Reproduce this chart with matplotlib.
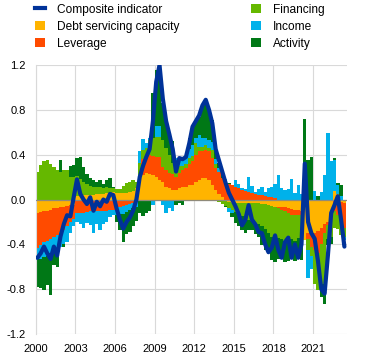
import numpy as np
import matplotlib
matplotlib.use("Agg")
import matplotlib.pyplot as plt
from matplotlib.lines import Line2D
from matplotlib.patches import Patch

plt.rcParams['font.family'] = ['Liberation Sans', 'DejaVu Sans']

# Quarterly data, 2000Q1 .. 2023Q2
start_year = 2000

debt_servicing = [
    -0.12, -0.11, -0.10, -0.10,
    -0.09, -0.08, -0.08, -0.07,
    -0.07, -0.06, -0.05, -0.05,
    0.03, 0.04, 0.04, 0.04,
    0.04, 0.04, 0.05, 0.05,
    0.05, 0.06, 0.06, 0.07,
    0.06, 0.06, 0.06, 0.06,
    0.07, 0.08, 0.10, 0.15,
    0.22, 0.24, 0.23, 0.22,
    0.20, 0.17, 0.16, 0.11,
    0.10, 0.085, 0.085, 0.10,
    0.11, 0.11, 0.13, 0.13,
    0.16, 0.17, 0.19, 0.19,
    0.17, 0.13, 0.085, 0.05,
    0.02, -0.01, -0.02, -0.03,
    -0.03, -0.03, -0.03, -0.035,
    -0.035, -0.035, -0.035, -0.035,
    -0.04, -0.04, -0.05, -0.06,
    -0.065, -0.065, -0.07, -0.07,
    -0.08, -0.085, -0.09, -0.09,
    -0.10, -0.36, -0.30, -0.30,
    -0.30, -0.28, -0.25, -0.22,
    -0.20, -0.15, 0.08, 0.05,
    -0.02, -0.03,
]

leverage = [
    -0.31, -0.30, -0.28, -0.27,
    -0.26, -0.25, -0.24, -0.22,
    -0.20, -0.18, -0.15, -0.12,
    -0.12, -0.12, -0.12, -0.11,
    -0.10, -0.10, -0.10, -0.10,
    -0.10, -0.10, -0.09, -0.09,
    -0.08, -0.07, -0.06, -0.05,
    -0.04, -0.03, -0.02, 0.03,
    0.14, 0.14, 0.17, 0.17,
    0.18, 0.21, 0.13, 0.15,
    0.14, 0.14, 0.12, 0.14,
    0.15, 0.17, 0.19, 0.21,
    0.24, 0.26, 0.24, 0.25,
    0.26, 0.24, 0.20, 0.20,
    0.17, 0.16, 0.14, 0.13,
    0.11, 0.10, 0.085, 0.08,
    0.07, 0.06, 0.05, 0.04,
    0.04, 0.03, 0.02, 0.02,
    0.01, -0.01, -0.02, -0.03,
    -0.04, -0.05, -0.05, -0.05,
    -0.04, 0.00, -0.05, -0.12,
    -0.15, -0.20, -0.15, -0.08,
    -0.03, -0.03, -0.10, -0.14,
    -0.20, -0.22,
]

financing = [
    0.25, 0.31, 0.34, 0.35,
    0.32, 0.29, 0.26, 0.25,
    0.26, 0.26, 0.20, 0.20,
    0.18, 0.14, 0.12, 0.10,
    0.08, 0.07, 0.06, 0.06,
    0.05, 0.05, 0.04, 0.03,
    0.03, 0.03, 0.06, 0.09,
    0.09, 0.09, 0.06, 0.15,
    0.08, 0.08, 0.13, 0.16,
    0.18, 0.18, 0.24, 0.20,
    0.16, 0.10, 0.08, 0.06,
    0.04, 0.04, 0.05, 0.05,
    0.10, 0.04, 0.04, 0.05,
    0.03, 0.07, 0.03, -0.02,
    -0.04, -0.05, -0.06, -0.06,
    -0.08, -0.10, -0.12, -0.14,
    -0.15, -0.16, -0.17, -0.18,
    -0.20, -0.22, -0.25, -0.27,
    -0.28, -0.27, -0.26, -0.27,
    -0.25, -0.22, -0.23, -0.20,
    -0.20, 0.00, -0.10, -0.08,
    -0.30, -0.33, -0.35, -0.45,
    -0.12, -0.15, -0.15, -0.12,
    -0.10, -0.08,
]

income = [
    -0.10, -0.12, -0.13, -0.13,
    -0.13, -0.15, -0.14, -0.13,
    -0.13, -0.14, -0.10, -0.07,
    -0.08, -0.10, -0.13, -0.10,
    -0.13, -0.20, -0.12, -0.17,
    -0.12, -0.10, -0.07, -0.05,
    -0.06, -0.06, -0.07, -0.06,
    -0.05, -0.05, -0.05, 0.10,
    0.10, 0.04, 0.02, -0.05,
    0.10, 0.10, -0.05, -0.12,
    -0.08, -0.10, 0.09, 0.08,
    0.08, 0.06, 0.08, 0.10,
    0.05, 0.11, 0.08, 0.06,
    0.07, 0.07, 0.05, 0.03,
    0.00, 0.02, -0.03, -0.03,
    0.06, 0.04, 0.02, 0.01,
    0.13, 0.06, 0.02, 0.05,
    0.07, 0.04, 0.08, 0.09,
    0.13, 0.22, 0.10, 0.085,
    0.09, 0.18, 0.055, 0.13,
    0.05, 0.00, -0.25, -0.12,
    0.08, 0.00, 0.07, 0.22,
    0.59, 0.34, 0.27, 0.08,
    0.03, -0.03,
]

activity = [
    -0.25, -0.26, -0.30, -0.26,
    -0.37, -0.10, -0.14, 0.10,
    -0.02, 0.00, 0.10, 0.11,
    0.16, 0.20, 0.13, 0.09,
    0.07, 0.06, 0.05, 0.06,
    0.04, 0.06, 0.09, 0.01,
    -0.06, -0.14, -0.25, -0.20,
    -0.20, -0.16, -0.12, -0.12,
    -0.15, -0.12, -0.10, 0.40,
    0.50, 0.52, 0.33, 0.25,
    0.18, 0.20, -0.05, -0.03,
    -0.05, 0.00, 0.10, 0.16,
    0.16, 0.16, 0.28, 0.32,
    0.28, 0.20, 0.12, 0.05,
    0.04, -0.01, 0.01, -0.04,
    -0.10, -0.11, -0.12, -0.12,
    -0.09, -0.08, -0.10, -0.12,
    -0.17, -0.19, -0.18, -0.21,
    -0.21, -0.19, -0.18, -0.19,
    -0.18, -0.16, -0.18, -0.19,
    -0.20, 0.72, 0.35, 0.38,
    0.00, 0.03, -0.12, -0.18,
    -0.06, -0.07, 0.02, 0.02,
    0.10, 0.00,
]

composite = [
    -0.52, -0.48, -0.42, -0.48,
    -0.53, -0.42, -0.50, -0.33,
    -0.22, -0.14, -0.15, 0.02,
    0.18, 0.05, 0.00, -0.04,
    0.02, -0.10, -0.02, -0.06,
    0.00, -0.02, 0.05, 0.04,
    -0.08, -0.18, -0.26, -0.20,
    -0.16, -0.10, 0.00, 0.20,
    0.30, 0.38, 0.45, 0.70,
    1.05, 1.20, 0.90, 0.70,
    0.58, 0.45, 0.25, 0.37,
    0.36, 0.38, 0.50, 0.65,
    0.70, 0.75, 0.84, 0.89,
    0.80, 0.68, 0.45, 0.35,
    0.25, 0.15, 0.06, 0.00,
    -0.06, -0.13, -0.23, -0.18,
    -0.05, -0.18, -0.22, -0.29,
    -0.30, -0.40, -0.47, -0.43,
    -0.32, -0.45, -0.52, -0.38,
    -0.34, -0.52, -0.40, -0.52,
    -0.40, 0.32, -0.20, -0.30,
    -0.35, -0.55, -0.80, -0.84,
    -0.50, -0.12, -0.05, 0.03,
    -0.18, -0.42,
]

series_names = ["Debt servicing capacity", "Leverage", "Financing", "Income", "Activity"]
series_values = [debt_servicing, leverage, financing, income, activity]
series_colors = ["#FFB400", "#FF4B00", "#65B800", "#00B1EA", "#007816"]
line_name = "Composite indicator"
line_color = "#003299"

x_ticks = [2000, 2003, 2006, 2009, 2012, 2015, 2018, 2021]
y_ticks = [-1.2, -0.8, -0.4, 0.0, 0.4, 0.8, 1.2]

n = len(composite)
t = start_year + np.arange(n) * 0.25

fig = plt.figure(figsize=(3.72, 3.62), dpi=100)
ax = fig.add_axes([0.096, 0.0773, 0.836, 0.743])

pos_bottom = np.zeros(n)
neg_bottom = np.zeros(n)
for vals, col in zip(series_values, series_colors):
    v = np.array(vals, dtype=float)
    pos = np.where(v > 0, v, 0.0)
    neg = np.where(v < 0, v, 0.0)
    ax.bar(t, pos, width=0.255, bottom=pos_bottom, align='edge', color=col,
           linewidth=0, zorder=2)
    ax.bar(t, neg, width=0.255, bottom=neg_bottom, align='edge', color=col,
           linewidth=0, zorder=2)
    pos_bottom += pos
    neg_bottom += neg

ax.axhline(0, color='#8f8a7a', lw=0.9, zorder=3)
ax.plot(t + 0.125, composite, color=line_color, lw=3.0, zorder=4,
        solid_joinstyle='round', solid_capstyle='round')

ax.set_xlim(2000, 2023.55)
ax.set_ylim(-1.2, 1.2)
ax.set_xticks(x_ticks)
ax.set_xticklabels([str(v) for v in x_ticks])
ax.set_yticks(y_ticks)
ax.set_yticklabels([("%.1f" % v).replace("\u2212", "-") for v in y_ticks])
ax.tick_params(axis='both', length=0, labelsize=8, colors='#000000')
ax.tick_params(axis='y', pad=7)
ax.tick_params(axis='x', pad=7)
ax.grid(True, color='#d9d9d9', lw=0.8, zorder=0)
ax.set_axisbelow(True)
for s in ['top', 'right', 'bottom']:
    ax.spines[s].set_visible(False)
ax.spines['left'].set_color('#d9d9d9')
ax.spines['left'].set_linewidth(0.8)

handles = [Line2D([0], [0], color=line_color, lw=3)]
labels = [line_name]
for name, col in zip(series_names, series_colors):
    handles.append(Patch(facecolor=col, edgecolor='none'))
    labels.append(name)

fig.legend(handles, labels, loc='upper left', bbox_to_anchor=(0.094, 0.99),
           ncol=2, frameon=False, fontsize=8.6, handlelength=0.85,
           handleheight=0.85, handletextpad=1.0, columnspacing=6.0,
           labelspacing=0.42, borderpad=0, borderaxespad=0)

fig.savefig("out.png", dpi=100)
